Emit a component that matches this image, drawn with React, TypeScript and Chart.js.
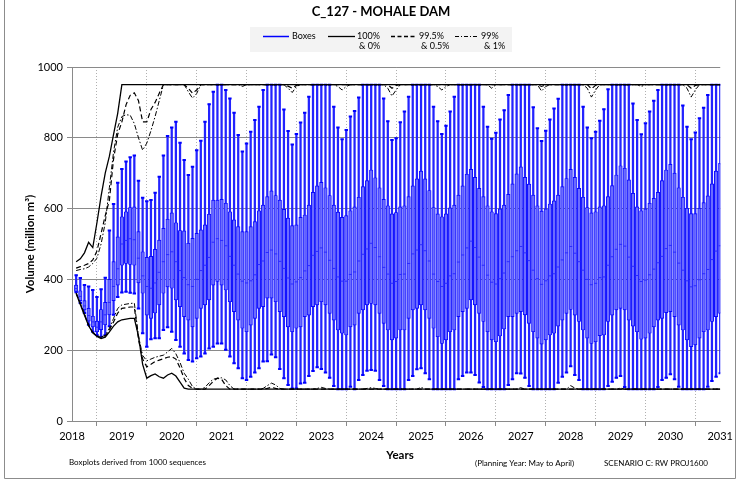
import React, { useEffect, useRef } from "react";
import { Chart, registerables } from "chart.js";

Chart.register(...registerables);

const TITLE = "C_127 - MOHALE DAM";
const Y_TITLE = "Volume (million m³)";
const X_TITLE = "Years";
const FOOT_LEFT = "Boxplots derived from 1000 sequences";
const FOOT_MID = "(Planning Year: May to April)";
const FOOT_RIGHT = "SCENARIO C: RW PROJ1600";

const FIRST_YEAR = 2018;
const yearTicks = [2018, 2019, 2020, 2021, 2022, 2023, 2024, 2025, 2026, 2027, 2028, 2029, 2030, 2031];
const volumeTicks = [0, 200, 400, 600, 800, 1000];

// monthly statistics, first value = first month after Jan 2018 tick
const whiskerLow = [
  364, 333, 305, 272, 252, 243, 238, 243, 268, 300, 350, 363,
  365, 362, 360, 318, 248, 210, 231, 234, 234, 257, 265, 252,
  229, 210, 191, 172, 168, 177, 182, 191, 205, 210, 219, 219,
  201, 182, 163, 149, 121, 116, 125, 137, 149, 168, 169, 188,
  180, 147, 121, 102, 92, 92, 106, 108, 127, 141, 152, 147,
  137, 122, 99, 90, 90, 90, 97, 90, 116, 130, 142, 144,
  142, 116, 99, 90, 90, 90, 90, 90, 116, 127, 146, 149,
  135, 118, 90, 90, 90, 90, 90, 90, 118, 127, 137, 137,
  130, 109, 96, 90, 90, 90, 90, 90, 102, 118, 135, 134,
  122, 99, 90, 90, 90, 90, 90, 90, 108, 125, 137, 155,
  130, 116, 90, 90, 90, 90, 90, 90, 99, 111, 122, 127,
  96, 90, 90, 90, 90, 90, 90, 90, 96, 116, 122, 132,
  118, 97, 90, 90, 90, 90, 90, 90, 97, 113, 125, 135,
];

const boxLow = [
  366, 340, 314, 282, 266, 252, 258, 272, 300, 340, 384, 440,
  445, 442, 440, 390, 361, 299, 290, 305, 328, 361, 379, 375,
  342, 323, 295, 285, 266, 290, 318, 328, 342, 384, 394, 384,
  370, 337, 309, 285, 262, 252, 271, 290, 318, 323, 347, 347,
  337, 309, 295, 266, 252, 262, 266, 295, 299, 323, 328, 337,
  328, 304, 285, 257, 248, 243, 266, 271, 304, 314, 328, 332,
  328, 304, 276, 257, 229, 234, 257, 257, 290, 314, 318, 328,
  314, 290, 262, 238, 219, 229, 252, 257, 295, 309, 318, 342,
  328, 304, 281, 252, 229, 224, 240, 260, 295, 295, 304, 309,
  300, 276, 252, 234, 217, 229, 243, 248, 268, 285, 304, 315,
  299, 281, 257, 234, 219, 224, 241, 243, 281, 299, 314, 318,
  314, 285, 268, 252, 231, 234, 248, 266, 285, 290, 306, 309,
  295, 271, 257, 229, 210, 215, 234, 252, 257, 281, 295, 304,
];

const boxMedian = [
  374, 352, 325, 298, 280, 265, 280, 300, 335, 380, 430, 500,
  510, 515, 512, 460, 410, 380, 375, 390, 420, 450, 470, 478,
  450, 425, 405, 385, 380, 400, 425, 440, 462, 505, 515, 510,
  495, 465, 440, 415, 395, 390, 396, 413, 442, 452, 476, 483,
  472, 451, 431, 404, 387, 393, 405, 424, 439, 468, 479, 489,
  477, 454, 431, 407, 395, 395, 414, 421, 452, 471, 486, 502,
  490, 464, 434, 415, 389, 394, 414, 415, 445, 472, 483, 498,
  481, 452, 415, 394, 380, 389, 410, 416, 449, 469, 489, 508,
  490, 463, 440, 412, 392, 387, 402, 418, 450, 464, 481, 493,
  475, 453, 426, 402, 386, 396, 410, 416, 435, 455, 475, 493,
  474, 450, 426, 400, 385, 389, 405, 407, 440, 464, 485, 499,
  494, 463, 437, 411, 394, 398, 413, 429, 447, 465, 487, 496,
  477, 446, 426, 396, 379, 382, 399, 416, 428, 456, 480, 495,
];

const boxHigh = [
  384, 368, 340, 318, 296, 282, 315, 335, 400, 450, 520, 577,
  591, 603, 605, 535, 478, 462, 465, 485, 511, 544, 570, 588,
  560, 538, 537, 502, 516, 530, 540, 554, 584, 624, 624, 626,
  615, 591, 568, 549, 535, 535, 549, 563, 594, 610, 634, 650,
  637, 624, 598, 573, 552, 554, 575, 582, 610, 646, 664, 674,
  659, 637, 610, 590, 575, 580, 594, 605, 632, 662, 679, 709,
  687, 659, 626, 608, 585, 589, 605, 608, 634, 664, 684, 706,
  684, 651, 603, 585, 577, 585, 602, 610, 638, 664, 697, 711,
  688, 657, 634, 608, 591, 586, 599, 610, 640, 670, 698, 718,
  688, 669, 638, 608, 593, 599, 613, 622, 638, 662, 685, 711,
  688, 657, 632, 603, 588, 591, 605, 608, 634, 665, 695, 721,
  714, 681, 643, 605, 594, 599, 615, 629, 646, 679, 709, 725,
  700, 659, 632, 601, 586, 586, 601, 617, 636, 670, 706, 728,
];

const whiskerHigh = [
  412, 404, 384, 380, 370, 350, 372, 405, 538, 613, 673, 712,
  733, 745, 750, 679, 631, 621, 624, 645, 690, 750, 805, 829,
  845, 786, 737, 695, 718, 765, 792, 845, 895, 930, 950, 950,
  935, 911, 871, 808, 761, 784, 817, 850, 888, 935, 950, 950,
  950, 950, 880, 819, 781, 811, 843, 871, 916, 950, 950, 950,
  950, 950, 888, 829, 796, 822, 860, 876, 914, 950, 950, 950,
  950, 950, 911, 847, 794, 799, 844, 874, 916, 950, 950, 950,
  950, 950, 888, 847, 811, 834, 874, 916, 950, 950, 950, 950,
  950, 950, 888, 831, 797, 814, 852, 878, 921, 950, 950, 950,
  950, 950, 886, 827, 791, 820, 852, 883, 910, 950, 950, 950,
  950, 950, 888, 829, 799, 817, 848, 881, 937, 950, 950, 950,
  950, 950, 897, 850, 810, 841, 874, 905, 935, 950, 950, 950,
  950, 950, 891, 831, 796, 815, 855, 885, 921, 950, 950, 950,
];

// envelope lines
const pct100 = [
  450, 458, 475, 505, 490, 560, 635, 700, 748, 810, 869, 950,
  950, 950, 950, 950, 950, 950, 950, 950, 950, 950, 950, 950,
  950, 950, 950, 950, 950, 950, 950, 950, 950, 950, 950, 950,
  950, 950, 950, 950, 950, 950, 950, 950, 950, 950, 950, 950,
  950, 950, 950, 950, 950, 950, 950, 950, 950, 950, 950, 950,
  950, 950, 950, 950, 950, 950, 950, 950, 950, 950, 950, 950,
  950, 950, 950, 950, 950, 950, 950, 950, 950, 950, 950, 950,
  950, 950, 950, 950, 950, 950, 950, 950, 950, 950, 950, 950,
  950, 950, 950, 950, 950, 950, 950, 950, 950, 950, 950, 950,
  950, 950, 950, 950, 950, 950, 950, 950, 950, 950, 950, 950,
  950, 950, 950, 950, 950, 950, 950, 950, 950, 950, 950, 950,
  950, 950, 950, 950, 950, 950, 950, 950, 950, 950, 950, 950,
  950, 950, 950, 950, 950, 950, 950, 950, 950, 950, 950, 950,
];

const pct0 = [
  360, 329, 299, 269, 249, 239, 233, 237, 252, 268, 280, 286,
  288, 290, 290, 240, 160, 121, 128, 133, 125, 121, 130, 135,
  127, 110, 93, 90, 90, 90, 90, 90, 90, 90, 90, 90,
  90, 90, 90, 90, 90, 90, 90, 90, 90, 90, 90, 90,
  90, 90, 90, 90, 90, 90, 90, 90, 90, 90, 90, 90,
  90, 90, 90, 90, 90, 90, 90, 90, 90, 90, 90, 90,
  90, 90, 90, 90, 90, 90, 90, 90, 90, 90, 90, 90,
  90, 90, 90, 90, 90, 90, 90, 90, 90, 90, 90, 90,
  90, 90, 90, 90, 90, 90, 90, 90, 90, 90, 90, 90,
  90, 90, 90, 90, 90, 90, 90, 90, 90, 90, 90, 90,
  90, 90, 90, 90, 90, 90, 90, 90, 90, 90, 90, 90,
  90, 90, 90, 90, 90, 90, 90, 90, 90, 90, 90, 90,
  90, 90, 90, 90, 90, 90, 90, 90, 90, 90, 90, 90,
];

const pct995 = [
  432, 436, 440, 445, 455, 480, 530, 580, 624, 740, 810, 845,
  893, 920, 927, 905, 845, 845, 880, 900, 926, 950, 950, 950,
  950, 950, 950, 940, 926, 935, 950, 950, 950, 950, 950, 950,
  950, 950, 950, 950, 950, 950, 950, 950, 950, 950, 950, 950,
  950, 950, 950, 946, 940, 948, 950, 950, 950, 950, 950, 950,
  950, 950, 950, 950, 950, 950, 950, 950, 950, 950, 950, 950,
  950, 950, 950, 950, 940, 948, 950, 950, 950, 950, 950, 950,
  950, 950, 950, 950, 950, 950, 950, 950, 950, 950, 950, 950,
  950, 950, 950, 950, 950, 950, 950, 950, 950, 950, 950, 950,
  950, 950, 950, 950, 945, 950, 950, 950, 950, 950, 950, 950,
  950, 950, 950, 950, 938, 948, 950, 950, 950, 950, 950, 950,
  950, 950, 950, 950, 950, 950, 950, 950, 950, 950, 950, 950,
  950, 950, 950, 950, 940, 948, 950, 950, 950, 950, 950, 950,
];

const pct05 = [
  361, 331, 302, 270, 250, 240, 236, 240, 257, 280, 305, 318,
  320, 322, 322, 230, 175, 153, 160, 168, 172, 176, 180, 182,
  175, 150, 120, 100, 92, 90, 90, 90, 100, 112, 121, 118,
  100, 90, 90, 90, 90, 90, 90, 90, 90, 90, 92, 95,
  92, 90, 90, 90, 90, 90, 90, 90, 90, 90, 90, 90,
  90, 90, 90, 90, 90, 90, 90, 90, 90, 90, 90, 90,
  90, 90, 90, 90, 90, 90, 90, 90, 90, 90, 90, 90,
  90, 90, 90, 90, 90, 90, 90, 90, 90, 90, 90, 90,
  90, 90, 90, 90, 90, 90, 90, 90, 90, 90, 90, 90,
  90, 90, 90, 90, 90, 90, 90, 90, 90, 90, 90, 90,
  90, 90, 90, 90, 90, 90, 90, 90, 90, 90, 90, 90,
  90, 90, 90, 90, 90, 90, 90, 90, 90, 90, 90, 90,
  90, 90, 90, 90, 90, 90, 90, 90, 90, 90, 90, 90,
];

const pct99 = [
  425, 428, 430, 435, 445, 460, 500, 560, 660, 760, 830, 860,
  865, 864, 840, 800, 765, 785, 820, 860, 905, 950, 950, 950,
  950, 950, 950, 930, 912, 925, 950, 950, 950, 950, 950, 950,
  950, 950, 950, 950, 945, 950, 950, 950, 950, 950, 950, 950,
  950, 950, 950, 940, 928, 945, 950, 950, 950, 950, 950, 950,
  950, 950, 950, 945, 935, 945, 950, 950, 950, 950, 950, 950,
  950, 950, 950, 940, 918, 935, 950, 950, 950, 950, 950, 950,
  950, 950, 950, 945, 935, 945, 950, 950, 950, 950, 950, 950,
  950, 950, 950, 950, 940, 950, 950, 950, 950, 950, 950, 950,
  950, 950, 950, 950, 932, 945, 950, 950, 950, 950, 950, 950,
  950, 950, 950, 940, 915, 935, 950, 950, 950, 950, 950, 950,
  950, 950, 950, 950, 945, 950, 950, 950, 950, 950, 950, 950,
  950, 950, 950, 940, 915, 935, 950, 950, 950, 950, 950, 950,
];

const pct1 = [
  362, 332, 303, 271, 251, 241, 237, 242, 262, 290, 318, 328,
  330, 332, 333, 240, 185, 170, 175, 180, 183, 186, 195, 205,
  190, 165, 135, 118, 97, 90, 90, 95, 108, 118, 121, 122,
  116, 100, 90, 90, 90, 90, 90, 90, 90, 92, 100, 107,
  102, 92, 90, 90, 90, 90, 90, 90, 90, 90, 92, 95,
  92, 90, 90, 90, 90, 90, 90, 90, 90, 90, 92, 94,
  92, 90, 90, 90, 90, 90, 90, 90, 90, 90, 90, 95,
  90, 90, 90, 90, 90, 90, 90, 90, 90, 90, 90, 90,
  90, 90, 90, 90, 90, 90, 90, 90, 90, 90, 90, 94,
  90, 90, 90, 90, 90, 90, 90, 90, 90, 90, 90, 100,
  93, 90, 90, 90, 90, 90, 90, 90, 90, 90, 90, 93,
  90, 90, 90, 90, 90, 90, 90, 90, 90, 90, 90, 90,
  90, 90, 90, 90, 90, 90, 90, 90, 90, 90, 90, 90,
];

const BLUE = "#0000ff";
const FONT = "Lato, 'Liberation Sans', sans-serif";

const monthX = whiskerLow.map((_, i) => FIRST_YEAR + (i + 1) / 12);
const toPts = (arr: number[]) => arr.map((v, i) => ({ x: monthX[i], y: v }));

const decorPlugin = {
  id: "decor",
  afterDraw(chart: any) {
    const ctx = chart.ctx as CanvasRenderingContext2D;
    const area = chart.chartArea;
    ctx.save();
    // outer frame
    ctx.strokeStyle = "#8c8c8c";
    ctx.lineWidth = 1;
    ctx.beginPath();
    ctx.moveTo(4.5, 0);
    ctx.lineTo(4.5, 478.5);
    ctx.lineTo(735.5, 478.5);
    ctx.lineTo(735.5, 0);
    ctx.stroke();

    // title
    ctx.fillStyle = "#000";
    ctx.textBaseline = "middle";
    ctx.textAlign = "center";
    ctx.font = `bold 13px ${FONT}`;
    ctx.fillText(TITLE, 381, 12);

    // legend
    ctx.fillStyle = "#f3f3f3";
    ctx.fillRect(250, 27, 262, 25);
    ctx.font = `9px ${FONT}`;
    ctx.fillStyle = "#000";
    ctx.textAlign = "left";
    const row1 = 36;
    const row2 = 46;
    const drawSample = (x1: number, x2: number, color: string, dash: number[], w: number) => {
      ctx.save();
      ctx.strokeStyle = color;
      ctx.lineWidth = w;
      ctx.setLineDash(dash);
      ctx.beginPath();
      ctx.moveTo(x1, row1 + 0.5);
      ctx.lineTo(x2, row1 + 0.5);
      ctx.stroke();
      ctx.restore();
    };
    drawSample(263, 289, BLUE, [], 1.5);
    ctx.fillText("Boxes", 292, row1);
    drawSample(328, 355, "#000", [], 1.3);
    ctx.fillText("100%", 357, row1);
    ctx.fillText("& 0%", 359, row2);
    drawSample(391, 417, "#000", [4, 2.5], 1.3);
    ctx.fillText("99.5%", 419, row1);
    ctx.fillText("& 0.5%", 421, row2);
    drawSample(455, 478, "#000", [4, 2, 1, 2], 1.1);
    ctx.fillText("99%", 481, row1);
    ctx.fillText("& 1%", 484, row2);

    // axis titles
    ctx.font = `bold 11.5px ${FONT}`;
    ctx.textAlign = "center";
    ctx.fillText(X_TITLE, 400, 455);
    ctx.save();
    ctx.translate(30, (area.top + area.bottom) / 2);
    ctx.rotate(-Math.PI / 2);
    ctx.fillText(Y_TITLE, 0, 0);
    ctx.restore();

    // footers
    ctx.font = `8px ${FONT}`;
    ctx.textAlign = "left";
    ctx.fillText(FOOT_LEFT, 69, 462);
    ctx.fillText(FOOT_MID, 475, 463);
    ctx.fillText(FOOT_RIGHT, 604, 463);
    ctx.restore();
  },
};

export default function App() {
  const ref = useRef<HTMLCanvasElement | null>(null);

  useEffect(() => {
    if (!ref.current) return;
    const lineDs = (data: number[], dash: number[], width: number) => ({
      type: "line" as const,
      data: toPts(data),
      borderColor: "#000",
      borderWidth: width,
      borderDash: dash,
      pointRadius: 0,
      tension: 0,
      fill: false,
      order: 0,
    });

    const chart = new Chart(ref.current, {
      type: "bar",
      data: {
        datasets: [
          lineDs(pct100, [], 1.3),
          lineDs(pct0, [], 1.3),
          lineDs(pct995, [5, 3], 1.2),
          lineDs(pct05, [5, 3], 1.2),
          lineDs(pct99, [5, 2, 1.5, 2], 1.0),
          lineDs(pct1, [5, 2, 1.5, 2], 1.0),
          {
            type: "scatter" as const,
            data: toPts(boxMedian),
            pointStyle: "line",
            pointRadius: 1.6,
            borderColor: "#2a2aff",
            borderWidth: 1,
            order: 1,
          },
          {
            type: "scatter" as const,
            data: [...toPts(whiskerLow), ...toPts(whiskerHigh)],
            pointStyle: "line",
            pointRadius: 1.7,
            borderColor: BLUE,
            borderWidth: 2,
            order: 2,
          },
          {
            type: "bar" as const,
            data: monthX.map((x, i) => ({ x, y: [boxLow[i], boxHigh[i]] })),
            backgroundColor: "#6c6cff",
            borderColor: "#0808ff",
            borderWidth: 0.9,
            borderSkipped: false,
            barThickness: 3.5,
            grouped: false,
            order: 3,
          },
          {
            type: "bar" as const,
            data: monthX.map((x, i) => ({ x, y: [whiskerLow[i], whiskerHigh[i]] })),
            backgroundColor: "#2323ff",
            borderWidth: 0,
            barThickness: 1.6,
            grouped: false,
            order: 4,
          },
        ] as any,
      },
      options: {
        responsive: false,
        devicePixelRatio: 1,
        animation: false,
        events: [],
        layout: { padding: { left: 0, right: 13, top: 67, bottom: 0 } },
        plugins: {
          legend: { display: false },
          tooltip: { enabled: false },
          title: { display: false },
        },
        scales: {
          x: {
            type: "linear",
            min: FIRST_YEAR,
            max: yearTicks[yearTicks.length - 1],
            offset: false,
            afterBuildTicks: (scale: any) => {
              scale.ticks = yearTicks.map((v) => ({ value: v }));
            },
            afterFit: (scale: any) => {
              scale.height = 62;
            },
            ticks: {
              autoSkip: false,
              maxRotation: 0,
              color: "#000",
              font: { family: FONT, size: 11 },
              padding: 4,
              callback: (v: any) => String(v),
            },
            grid: {
              color: "#b0b0b0",
              lineWidth: 1,
              drawTicks: true,
              tickLength: 5,
              tickColor: "#8a8a8a",
              tickBorderDash: [],
            },
            border: { display: true, color: "#8a8a8a", width: 1, dash: [1, 2] },
          },
          y: {
            type: "linear",
            min: 0,
            max: 1000,
            afterBuildTicks: (scale: any) => {
              scale.ticks = volumeTicks.map((v) => ({ value: v }));
            },
            afterFit: (scale: any) => {
              scale.width = 72;
            },
            ticks: {
              color: "#000",
              font: { family: FONT, size: 11 },
              padding: 4,
              callback: (v: any) => String(v),
            },
            grid: {
              color: "#8a8a8a",
              lineWidth: 1,
              drawTicks: true,
              tickLength: 5,
              tickColor: "#8a8a8a",
            },
            border: { display: true, color: "#8a8a8a", width: 1 },
          },
        },
      } as any,
      plugins: [decorPlugin],
    });
    return () => chart.destroy();
  }, []);

  return (
    <div style={{ position: "absolute", left: 0, top: 0, width: 737, height: 483, background: "#fff" }}>
      <canvas ref={ref} width={737} height={483} style={{ width: 737, height: 483, display: "block" }} />
    </div>
  );
}
